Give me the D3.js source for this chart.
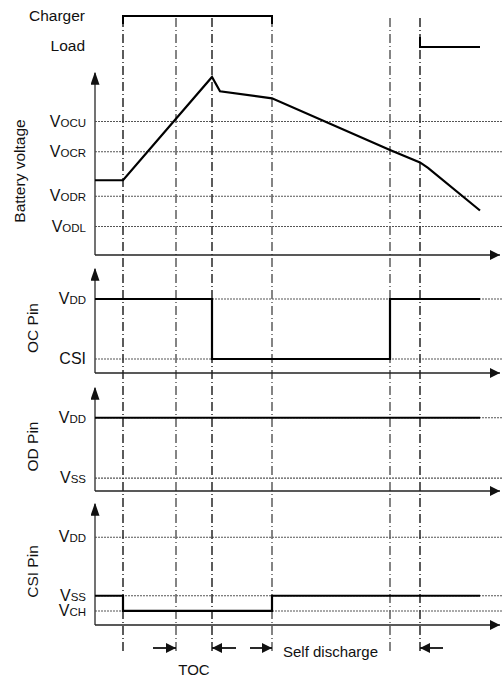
<!DOCTYPE html>
<html>
<head>
<meta charset="utf-8">
<script src="https://cdn.jsdelivr.net/npm/d3@7"></script>
<style>
  body { margin: 0; background: #fff; }
  text { font-family: "Liberation Sans", Arial, sans-serif; fill: #111; }
</style>
</head>
<body>
<div id="chart"></div>
<script>
// Set up the SVG container
const width = 502;
const height = 679;

// time marks (arbitrary time units)
const eventTimes = [28, 81, 117, 177, 295, 325];
const endTime = 385;

// charger / load state
const chargerOn = [28, 177];
const loadOn = [325, endTime];

// battery voltage (percent of panel height)
const batteryLevels = [75, 58, 33, 16];
const batteryLabels = [["V", "OCU"], ["V", "OCR"], ["V", "ODR"], ["V", "ODL"]];
const batteryTimes = [0, 28, 117, 125, 177, 295, 325, 333, 385];
const batteryValues = [42, 42, 100, 92, 88, 59, 52, 49, 25];

// OC pin
const ocLevels = [74, 14];
const ocLabels = [["V", "DD"], ["CSI", ""]];
const ocTimes = [0, 117, 295, 385];
const ocValues = [74, 14, 74, 74];

// OD pin
const odLevels = [74, 13];
const odLabels = [["V", "DD"], ["V", "SS"]];
const odTimes = [0, 385];
const odValues = [74, 74];

// CSI pin
const csiLevels = [75, 25, 12];
const csiLabels = [["V", "DD"], ["V", "SS"], ["V", "CH"]];
const csiTimes = [0, 28, 177, 385];
const csiValues = [25, 12, 25, 25];

const svg = d3.select("#chart")
    .append("svg")
    .attr("width", width)
    .attr("height", height);

const x = d3.scaleLinear().domain([0, 405]).range([95, 500]);

// panels: layout
const panels = [
    { title: "Battery voltage", top: 77, axis: 255, tx: 25, levels: batteryLevels, labels: batteryLabels,
      times: batteryTimes, values: batteryValues, curve: d3.curveLinear },
    { title: "OC Pin", top: 273, axis: 373, tx: 38, levels: ocLevels, labels: ocLabels,
      times: ocTimes, values: ocValues, curve: d3.curveStepAfter },
    { title: "OD Pin", top: 392, axis: 491, tx: 38, levels: odLevels, labels: odLabels,
      times: odTimes, values: odValues, curve: d3.curveStepAfter },
    { title: "CSI Pin", top: 508, axis: 625, tx: 38, levels: csiLevels, labels: csiLabels,
      times: csiTimes, values: csiValues, curve: d3.curveStepAfter }
];

// arrow heads
const defs = svg.append("defs");
defs.append("marker")
    .attr("id", "arrowAxis")
    .attr("viewBox", "0 0 10 10")
    .attr("refX", 9).attr("refY", 5)
    .attr("markerWidth", 13).attr("markerHeight", 9)
    .attr("markerUnits", "userSpaceOnUse")
    .attr("orient", "auto")
    .attr("preserveAspectRatio", "none")
    .append("path")
    .attr("d", "M0,0 L10,5 L0,10 Z")
    .attr("fill", "#111");

defs.append("marker")
    .attr("id", "arrowHead")
    .attr("viewBox", "0 0 10 10")
    .attr("refX", 10).attr("refY", 5)
    .attr("markerWidth", 10).attr("markerHeight", 10)
    .attr("markerUnits", "userSpaceOnUse")
    .attr("orient", "auto")
    .append("path")
    .attr("d", "M0,0 L10,5 L0,10 Z")
    .attr("fill", "#111");

// grid lines + labels per panel
panels.forEach(function (p) {
    const ys = d3.scaleLinear().domain([0, 100]).range([p.axis, p.top]);
    p.y = ys;

    const g = svg.append("g");

    g.selectAll(".grid")
        .data(p.levels)
        .enter()
        .append("line")
        .attr("x1", x(0)).attr("x2", width)
        .attr("y1", d => ys(d)).attr("y2", d => ys(d))
        .style("stroke", "#555")
        .style("stroke-width", 1.1)
        .style("stroke-dasharray", "2,1");

    const lab = g.selectAll(".lbl")
        .data(p.levels)
        .enter()
        .append("text")
        .attr("x", 86)
        .attr("y", d => ys(d) + 5)
        .attr("text-anchor", "end");
    lab.append("tspan")
        .style("font-size", "16px")
        .text((d, i) => p.labels[i][0]);
    lab.append("tspan")
        .style("font-size", "11.5px")
        .text((d, i) => p.labels[i][1]);

    g.append("text")
        .attr("transform", `translate(${p.tx},${(p.top + p.axis) / 2 + 5}) rotate(-90)`)
        .attr("text-anchor", "middle")
        .style("font-size", "15.5px")
        .text(p.title);
});

// dash-dot time marks
svg.selectAll(".mark")
    .data(eventTimes)
    .enter()
    .append("line")
    .attr("x1", d => x(d)).attr("x2", d => x(d))
    .attr("y1", 18).attr("y2", 653)
    .style("stroke", (d, i) => (i === 0 || i === 2 || i === 5) ? "#333" : "#666")
    .style("stroke-width", 1.6)
    .style("stroke-dasharray", "9,3,1,3");

// axes
panels.forEach(function (p) {
    svg.append("line")
        .attr("x1", x(0)).attr("x2", x(0))
        .attr("y1", p.axis).attr("y2", p.top - 4)
        .attr("marker-end", "url(#arrowAxis)")
        .style("stroke", "#444")
        .style("stroke-width", 1.5);
    svg.append("line")
        .attr("x1", x(0)).attr("x2", x(405))
        .attr("y1", p.axis).attr("y2", p.axis)
        .attr("marker-end", "url(#arrowHead)")
        .style("stroke", "#222")
        .style("stroke-width", 1.5);
});

// signals
panels.forEach(function (p) {
    const line = d3.line()
        .x(d => x(d[0]))
        .y(d => p.y(d[1]))
        .curve(p.curve);
    svg.append("path")
        .datum(p.times.map((t, i) => [t, p.values[i]]))
        .attr("d", line)
        .style("fill", "none")
        .style("stroke", "#000")
        .style("stroke-width", 2.2);
});

// Charger and Load rows
svg.append("text").attr("x", 85).attr("y", 21).attr("text-anchor", "end")
    .style("font-size", "15.5px").text("Charger");
svg.append("text").attr("x", 85).attr("y", 51).attr("text-anchor", "end")
    .style("font-size", "15.5px").text("Load");

svg.append("path")
    .attr("d", `M${x(chargerOn[0])},24 V16 H${x(chargerOn[1])} V24`)
    .style("fill", "none")
    .style("stroke", "#000")
    .style("stroke-width", 2);

svg.append("path")
    .attr("d", `M${x(loadOn[0])},37 V47 H${x(loadOn[1])}`)
    .style("fill", "none")
    .style("stroke", "#000")
    .style("stroke-width", 2);

// bottom annotations
const arrowY = 648;
const annot = [
    [eventTimes[1] - 23, eventTimes[1]],
    [eventTimes[2] + 24, eventTimes[2]],
    [eventTimes[3] - 22, eventTimes[3]],
    [eventTimes[5] + 23, eventTimes[5]]
];
svg.selectAll(".annot")
    .data(annot)
    .enter()
    .append("line")
    .attr("x1", d => x(d[0])).attr("x2", d => x(d[1]))
    .attr("y1", arrowY).attr("y2", arrowY)
    .attr("marker-end", "url(#arrowHead)")
    .style("stroke", "#111")
    .style("stroke-width", 1.8);

svg.append("text")
    .attr("x", (x(eventTimes[1]) + x(eventTimes[2])) / 2)
    .attr("y", 675)
    .attr("text-anchor", "middle")
    .style("font-size", "15px")
    .text("TOC");

svg.append("text")
    .attr("x", x(eventTimes[3]) + 11)
    .attr("y", 657)
    .style("font-size", "15px")
    .text("Self discharge");
</script>
</body>
</html>
